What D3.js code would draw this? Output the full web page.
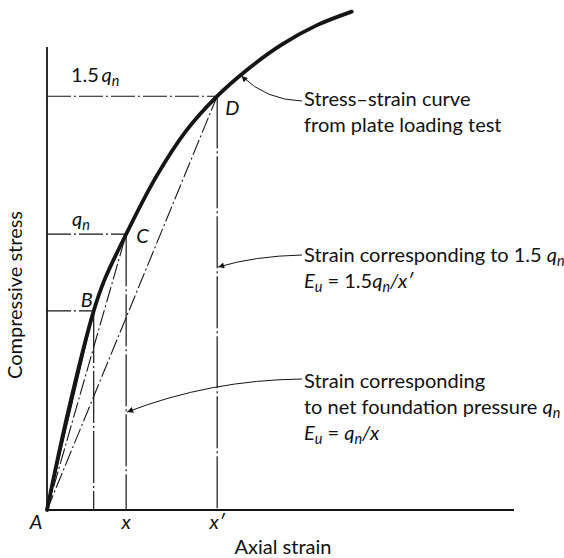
<!DOCTYPE html>
<html>
<head>
<meta charset="utf-8">
<script src="https://cdn.jsdelivr.net/npm/d3@7/dist/d3.min.js"></script>
<style>
  html, body { margin: 0; padding: 0; background: #fff; }
  svg { display: block; }
  text { font-family: Lato, "Open Sans", sans-serif; fill: #111; }
</style>
</head>
<body>
<div id="chart"></div>
<script>
// Plate loading test: stress–strain curve (arbitrary units)
const curveStrain = [0, 0.53, 1.18, 1.45, 2.0, 2.76, 3.52, 4.3, 5.05, 5.93, 6.81, 7.70];
const curveStress = [0, 2.12, 4.33, 5.0, 6.0, 7.25, 8.25, 9.0, 9.57, 10.12, 10.54, 10.84];

// Reference points on the curve
const pointNames  = ["A", "B", "C", "D"];
const pointStrain = [0, 1.18, 2.0, 4.3];
const pointStress = [0, 4.33, 6.0, 9.0];

// Strain tick labels on the horizontal axis
const tickStrain = [0, 2.0, 4.3];
const tickLabels = ["A", "x", "x\u2032"];

const W = 564, H = 558;
const x = d3.scaleLinear().domain([0, 11.8]).range([47, 514]);
const y = d3.scaleLinear().domain([0, 10.07]).range([510, 47]);

const svg = d3.select("#chart").append("svg")
  .attr("width", W).attr("height", H)
  .attr("viewBox", `0 0 ${W} ${H}`);

const ink = "#151515";

// Axes
svg.append("line").attr("x1", x(0)).attr("y1", y(0)).attr("x2", x(0)).attr("y2", y(10.07))
  .attr("stroke", ink).attr("stroke-width", 1.8);
svg.append("line").attr("x1", x(0)).attr("y1", y(0)).attr("x2", x(11.8)).attr("y2", y(0))
  .attr("stroke", ink).attr("stroke-width", 1.8);

const pts = pointNames.map((n, i) => ({ name: n, sx: pointStrain[i], sy: pointStress[i] }));
const B = pts[1], C = pts[2], D = pts[3];

// Horizontal stress guides (dash-dot)
const guides = svg.append("g").attr("stroke", ink).attr("fill", "none");
[B, C, D].forEach(p => {
  guides.append("line")
    .attr("x1", x(0)).attr("y1", y(p.sy)).attr("x2", x(p.sx)).attr("y2", y(p.sy))
    .attr("stroke-width", 1.1).attr("stroke-dasharray", "24,3,2,3");
});
// Vertical strain guides
[B, C, D].forEach(p => {
  guides.append("line")
    .attr("x1", x(p.sx)).attr("y1", y(p.sy)).attr("x2", x(p.sx)).attr("y2", y(0))
    .attr("stroke-width", 1.2).attr("stroke-dasharray", "52,3,2,3");
});

// Chords from the origin
guides.append("line")
  .attr("x1", x(0)).attr("y1", y(0)).attr("x2", x(B.sx)).attr("y2", y(B.sy))
  .attr("stroke-width", 1.1);
[C, D].forEach(p => {
  guides.append("line")
    .attr("x1", x(0)).attr("y1", y(0)).attr("x2", x(p.sx)).attr("y2", y(p.sy))
    .attr("stroke-width", 1.1).attr("stroke-dasharray", "16,3,2,3");
});

// Stress–strain curve
const line = d3.line().x(d => x(d[0])).y(d => y(d[1])).curve(d3.curveCatmullRom.alpha(0.5));
svg.append("path")
  .datum(curveStrain.map((s, i) => [s, curveStress[i]]))
  .attr("d", line)
  .attr("fill", "none").attr("stroke", ink).attr("stroke-width", 3.8)
  .attr("stroke-linecap", "round");

// Leader arrows
svg.append("defs").append("marker")
  .attr("id", "tip").attr("viewBox", "0 0 10 10").attr("refX", 10).attr("refY", 5)
  .attr("markerWidth", 9).attr("markerHeight", 6).attr("markerUnits", "userSpaceOnUse")
  .attr("orient", "auto")
  .append("path").attr("d", "M0,0L10,5L0,10z").attr("fill", ink);

function leader(x0, y0, cx, cy, x1, y1) {
  const p = d3.path();
  p.moveTo(x0, y0);
  p.quadraticCurveTo(cx, cy, x1, y1);
  svg.append("path").attr("d", p.toString())
    .attr("fill", "none").attr("stroke", ink).attr("stroke-width", 1)
    .attr("marker-end", "url(#tip)");
}
leader(302, 101, 266, 100, x(4.84) + 3, y(9.42) - 1);
leader(302, 255, 255, 256, x(D.sx) + 1, 267);
leader(302, 379, 210, 380, x(C.sx) + 1, 412);

// Italic q with subscript n
function qn(sel) {
  sel.append("tspan").attr("font-style", "italic").text("q");
  sel.append("tspan").attr("font-style", "italic").attr("font-size", "0.72em")
    .attr("dy", "0.28em").text("n");
}

const fs = 20;

// Point labels B, C, D
[B, C, D].forEach(p => {
  const off = { B: [-13, -4], C: [10, 9], D: [8, 19] }[p.name];
  svg.append("text").attr("x", x(p.sx) + off[0]).attr("y", y(p.sy) + off[1])
    .attr("font-size", fs).attr("font-style", "italic").text(p.name);
});

// Stress level labels
const t15 = svg.append("text").attr("x", 71).attr("y", y(D.sy) - 14).attr("font-size", fs);
t15.append("tspan").text("1.5\u2009");
qn(t15);
const tq = svg.append("text").attr("x", 72).attr("y", y(C.sy) - 8).attr("font-size", fs);
qn(tq);

// Strain tick labels
svg.selectAll("text.tick").data(tickStrain).join("text").attr("class", "tick")
  .attr("x", (d, i) => x(d) + (i === 0 ? -11 : 0)).attr("y", 529)
  .attr("text-anchor", "middle").attr("font-size", fs).attr("font-style", "italic")
  .text((d, i) => tickLabels[i]);

// Axis titles
svg.append("text").attr("x", 283).attr("y", 554).attr("text-anchor", "middle")
  .attr("font-size", fs).text("Axial strain");
svg.append("text").attr("transform", "translate(22,295) rotate(-90)")
  .attr("text-anchor", "middle").attr("font-size", fs).text("Compressive stress");

// Annotation text
const tx = 304;
svg.append("text").attr("x", tx).attr("y", 106).attr("font-size", fs).text("Stress\u2013strain curve");
svg.append("text").attr("x", tx).attr("y", 132).attr("font-size", fs).text("from plate loading test");

const a1 = svg.append("text").attr("x", tx).attr("y", 262).attr("font-size", fs);
a1.append("tspan").text("Strain corresponding to 1.5 ");
qn(a1);
const a2 = svg.append("text").attr("x", tx).attr("y", 288).attr("font-size", fs);
a2.append("tspan").attr("font-style", "italic").text("E");
a2.append("tspan").attr("font-style", "italic").attr("font-size", "0.72em").attr("dy", "0.28em").text("u");
a2.append("tspan").attr("dy", "-0.2em").text(" = 1.5");
qn(a2);
a2.append("tspan").attr("dy", "-0.2em").attr("font-style", "italic").text("/x\u2032");

svg.append("text").attr("x", tx).attr("y", 388).attr("font-size", fs).text("Strain corresponding");
const b2 = svg.append("text").attr("x", tx).attr("y", 414).attr("font-size", fs);
b2.append("tspan").text("to net foundation pressure ");
qn(b2);
const b3 = svg.append("text").attr("x", tx).attr("y", 440).attr("font-size", fs);
b3.append("tspan").attr("font-style", "italic").text("E");
b3.append("tspan").attr("font-style", "italic").attr("font-size", "0.72em").attr("dy", "0.28em").text("u");
b3.append("tspan").attr("dy", "-0.2em").text(" = ");
qn(b3);
b3.append("tspan").attr("dy", "-0.2em").attr("font-style", "italic").text("/x");
</script>
</body>
</html>
